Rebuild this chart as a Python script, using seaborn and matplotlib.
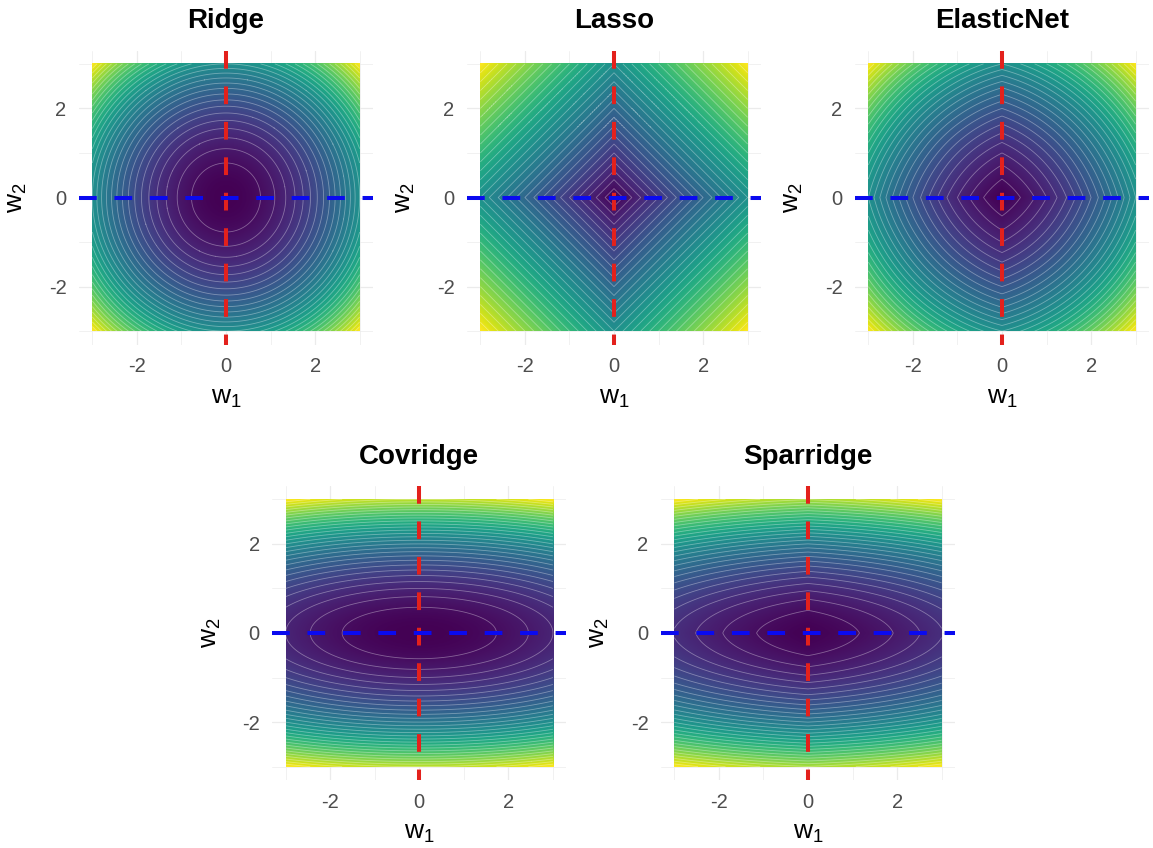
import numpy as np
import matplotlib
matplotlib.use("Agg")
import matplotlib.pyplot as plt
import seaborn as sns

# ---- data ----
titles = ["Ridge", "Lasso", "ElasticNet", "Covridge", "Sparridge"]
# penalty f = a1*w1^2 + a2*w2^2 + b1*|w1| + b2*|w2|
quad_w1 = [1.0, 0.0, 1.0, 1.0, 1.0]
quad_w2 = [1.0, 0.0, 1.0, 9.0, 11.4]
abs_w1 = [0.0, 1.0, 2.0, 0.0, 2.5]
abs_w2 = [0.0, 1.0, 2.0, 0.0, 2.5]
w_min, w_max, n_grid = -3.0, 3.0, 401
tick_values = [-2, 0, 2]
tick_labels = ["-2", "0", "2"]
n_bins = 30

sns.set_theme(style="white")
plt.rcParams["font.family"] = ["Liberation Sans", "DejaVu Sans"]
plt.rcParams["mathtext.fontset"] = "custom"
plt.rcParams["mathtext.rm"] = "Liberation Sans"
plt.rcParams["mathtext.it"] = "Liberation Sans"

W = 1153
H = 848
fig = plt.figure(figsize=(W / 100, H / 100), dpi=100)

size = 294
centers = [(226, 197.5), (614, 197.5), (1002, 197.5), (419.3, 633), (808, 633)]

w = np.linspace(w_min, w_max, n_grid)
W1, W2 = np.meshgrid(w, w)
exp = 0.3
lim = (w_min - exp, w_max + exp)

for i, title in enumerate(titles):
    cx, cy = centers[i]
    left = (cx - size / 2) / W
    bottom = (H - (cy + size / 2)) / H
    ax = fig.add_axes([left, bottom, size / W, size / H])
    Z = (quad_w1[i] * W1 ** 2 + quad_w2[i] * W2 ** 2
         + abs_w1[i] * np.abs(W1) + abs_w2[i] * np.abs(W2))
    ax.set_axisbelow(True)
    for g in range(-3, 4):
        ax.axvline(g, color="#ebebeb", lw=0.9 if g % 2 == 0 else 0.5, zorder=0)
        ax.axhline(g, color="#ebebeb", lw=0.9 if g % 2 == 0 else 0.5, zorder=0)
    ax.imshow(Z, extent=(w_min, w_max, w_min, w_max), origin="lower",
              cmap="viridis", vmin=Z.min(), vmax=Z.max(),
              interpolation="bilinear", aspect="auto", zorder=1)
    levels = np.linspace(Z.min(), Z.max(), n_bins + 1)[1:-1]
    ax.contour(W1, W2, Z, levels=levels, colors="white", alpha=0.35,
               linewidths=0.6, zorder=2)
    sns.lineplot(x=[0, 0], y=[lim[1], lim[0]], sort=False, estimator=None,
                 color="#e3211c", linewidth=2.9, linestyle=(0, (4.4, 4.4)),
                 ax=ax, zorder=3)
    sns.lineplot(x=[lim[0], lim[1]], y=[0, 0], sort=False, estimator=None,
                 color="#0a0aef", linewidth=2.9, linestyle=(0, (4.4, 4.4)),
                 ax=ax, zorder=3)
    ax.set_xlim(lim)
    ax.set_ylim(lim)
    ax.set_xticks(tick_values)
    ax.set_xticklabels(tick_labels)
    ax.set_yticks(tick_values)
    ax.set_yticklabels(tick_labels)
    ax.tick_params(length=0, labelsize=14.5, labelcolor="#4d4d4d", pad=9)
    for s in ax.spines.values():
        s.set_visible(False)
    ax.set_xlabel(r"$\mathrm{w_1}$", fontsize=19, color="black", labelpad=7)
    ax.set_ylabel(r"$\mathrm{w_2}$", fontsize=19, color="black", labelpad=14)
    ax.set_title(title, fontsize=20, fontweight="bold", color="black", pad=16)

fig.savefig("out.png", dpi=100)
